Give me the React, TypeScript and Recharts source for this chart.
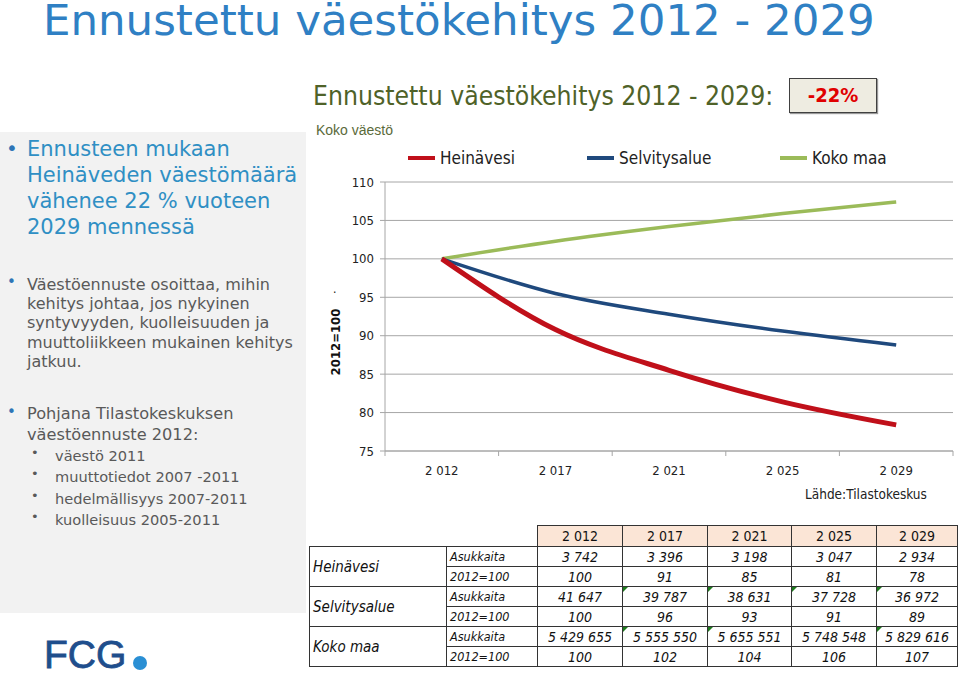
import React from "react";
import { CartesianGrid, Line, LineChart, XAxis, YAxis } from "recharts";

// chart data (index 2012 = 100)
const years = ["2 012", "2 017", "2 021", "2 025", "2 029"];
const heinavesi = [100, 90.8, 85.5, 81.4, 78.4];
const selvitysalue = [100, 95.5, 92.8, 90.6, 88.8];
const kokoMaa = [100, 102.3, 104.2, 105.9, 107.4];
const yTicks = [75, 80, 85, 90, 95, 100, 105, 110];

// table data
const heinavesiAsukkaita = ["3 742", "3 396", "3 198", "3 047", "2 934"];
const heinavesiIndeksi = ["100", "91", "85", "81", "78"];
const selvitysalueAsukkaita = ["41 647", "39 787", "38 631", "37 728", "36 972"];
const selvitysalueIndeksi = ["100", "96", "93", "91", "89"];
const kokoMaaAsukkaita = ["5 429 655", "5 555 550", "5 655 551", "5 748 548", "5 829 616"];
const kokoMaaIndeksi = ["100", "102", "104", "106", "107"];
const selvitysalueFlags = [false, true, true, true, true];
const kokoMaaFlags = [false, true, true, false, true];

const series = [
  { key: "heinavesi", name: "Heinävesi", color: "#c0101a", width: 5 },
  { key: "selvitysalue", name: "Selvitysalue", color: "#1f497d", width: 3.5 },
  { key: "kokoMaa", name: "Koko maa", color: "#9bbb59", width: 3.5 },
];

const chartData = years.map((y, i) => ({
  year: y,
  heinavesi: heinavesi[i],
  selvitysalue: selvitysalue[i],
  kokoMaa: kokoMaa[i],
}));

const tableRows = [
  { name: "Heinävesi", abs: heinavesiAsukkaita, idx: heinavesiIndeksi, flags: [false, false, false, false, false] },
  { name: "Selvitysalue", abs: selvitysalueAsukkaita, idx: selvitysalueIndeksi, flags: selvitysalueFlags },
  { name: "Koko maa", abs: kokoMaaAsukkaita, idx: kokoMaaIndeksi, flags: kokoMaaFlags },
];

const CAL = "'Liberation Sans Narrow', 'DejaVu Sans Condensed', 'Liberation Sans', sans-serif";
const VER = "'DejaVu Sans', Verdana, sans-serif";

const CHART_W = 660;
const CHART_H = 360;
const MARGIN = { top: 42, right: 7, bottom: 19, left: 40 };
const Y_W = 45;
const PLOT_W = CHART_W - MARGIN.left - MARGIN.right - Y_W;
const BAND = PLOT_W / years.length;

const XTick = (props: any) => {
  const { x, y, payload, index } = props;
  return (
    <g>
      <line x1={x - BAND / 2} x2={x - BAND / 2} y1={y} y2={y + 5} stroke="#a6a6a6" />
      {index === years.length - 1 && (
        <line x1={x + BAND / 2} x2={x + BAND / 2} y1={y} y2={y + 5} stroke="#a6a6a6" />
      )}
      <text x={x} y={y + 24} textAnchor="middle" fontSize={13} fontFamily={CAL} fill="#222">
        {payload.value}
      </text>
    </g>
  );
};

const colW = [137, 91, 85, 85, 84, 85, 81];
const cellBase: React.CSSProperties = {
  border: "1px solid #333",
  padding: 0,
  textAlign: "center",
  fontStyle: "italic",
  fontSize: 14,
  height: 19,
  position: "relative",
};

const Flag = () => (
  <span
    style={{
      position: "absolute",
      left: 0,
      top: 0,
      width: 0,
      height: 0,
      borderTop: "5px solid #1e7a1e",
      borderRight: "5px solid transparent",
    }}
  />
);

export default function App() {
  return (
    <div
      style={{
        position: "absolute",
        left: 0,
        top: 0,
        width: 960,
        height: 675,
        overflow: "hidden",
        background: "#fff",
        fontFamily: VER,
      }}
    >
      {/* slide title */}
      <div
        style={{
          position: "absolute",
          left: 43,
          top: 1,
          fontSize: 43.5,
          lineHeight: "38px",
          color: "#2f80c4",
          whiteSpace: "nowrap",
        }}
      >
        Ennustettu väestökehitys 2012 - 2029
      </div>

      {/* left panel */}
      <div style={{ position: "absolute", left: 0, top: 132, width: 306, height: 481, background: "#f2f2f2" }} />
      <div style={{ position: "absolute", left: 6, top: 136, color: "#2e75b6", fontSize: 20 }}>•</div>
      <div
        style={{
          position: "absolute",
          left: 27,
          top: 136,
          fontSize: 21,
          lineHeight: "26px",
          color: "#2f8fc4",
          whiteSpace: "pre",
        }}
      >
        {"Ennusteen mukaan\nHeinäveden väestömäärä\nvähenee 22 % vuoteen\n2029 mennessä"}
      </div>

      <div style={{ position: "absolute", left: 7, top: 273, color: "#2e75b6", fontSize: 15 }}>•</div>
      <div
        style={{
          position: "absolute",
          left: 27,
          top: 274.5,
          fontSize: 16,
          lineHeight: "19.4px",
          color: "#595959",
          whiteSpace: "pre",
        }}
      >
        {"Väestöennuste osoittaa, mihin\nkehitys johtaa, jos nykyinen\nsyntyvyyden, kuolleisuuden ja\nmuuttoliikkeen mukainen kehitys\njatkuu."}
      </div>

      <div style={{ position: "absolute", left: 7, top: 403, color: "#2e75b6", fontSize: 15 }}>•</div>
      <div
        style={{
          position: "absolute",
          left: 27,
          top: 404,
          fontSize: 16.2,
          lineHeight: "20.5px",
          color: "#595959",
          whiteSpace: "pre",
        }}
      >
        {"Pohjana Tilastokeskuksen\nväestöennuste 2012:"}
      </div>
      {["väestö 2011", "muuttotiedot 2007 -2011", "hedelmällisyys 2007-2011", "kuolleisuus 2005-2011"].map((t, i) => (
        <div key={t}>
          <div style={{ position: "absolute", left: 31, top: 445 + i * 21.3, color: "#595959", fontSize: 13 }}>•</div>
          <div
            style={{
              position: "absolute",
              left: 55,
              top: 446 + i * 21.3,
              fontSize: 14.6,
              lineHeight: "20px",
              color: "#595959",
              whiteSpace: "pre",
            }}
          >
            {t}
          </div>
        </div>
      ))}

      {/* FCG logo */}
      <div
        style={{
          position: "absolute",
          left: 44,
          top: 635,
          fontFamily: "'Liberation Sans', sans-serif",
          fontSize: 39,
          color: "#1f4e8c",
          lineHeight: "39px",
          WebkitTextStroke: "0.8px #1f4e8c",
        }}
      >
        FCG
      </div>
      <div
        style={{
          position: "absolute",
          left: 133,
          top: 656,
          width: 14,
          height: 14,
          borderRadius: 7,
          background: "#2a8fd4",
        }}
      />

      {/* chart heading */}
      <div
        style={{
          position: "absolute",
          left: 313,
          top: 81,
          fontFamily: CAL,
          fontSize: 26.3,
          color: "#4f6228",
          whiteSpace: "nowrap",
        }}
      >
        Ennustettu väestökehitys 2012 - 2029:
      </div>
      <div
        style={{
          position: "absolute",
          left: 789,
          top: 78,
          width: 86,
          height: 33,
          background: "#eeece1",
          border: "1px solid #404040",
          boxShadow: "1px 1px 1px #999",
          color: "#e00000",
          fontFamily: CAL,
          fontWeight: "bold",
          fontSize: 20,
          lineHeight: "33px",
          textAlign: "center",
        }}
      >
        -22%
      </div>
      <div
        style={{
          position: "absolute",
          left: 316,
          top: 122,
          fontFamily: "'Liberation Sans', sans-serif",
          fontSize: 14,
          color: "#5a6a3a",
        }}
      >
        Koko väestö
      </div>

      {/* legend */}
      {series.map((s, i) => (
        <div
          key={s.key}
          style={{
            position: "absolute",
            left: [408, 587, 780][i],
            top: 148,
            display: "flex",
            alignItems: "center",
            fontFamily: CAL,
            fontSize: 17,
            color: "#222",
            whiteSpace: "nowrap",
          }}
        >
          <span style={{ display: "inline-block", width: 27, height: 4, background: s.color, marginRight: 5 }} />
          {s.name}
        </div>
      ))}

      {/* line chart */}
      <div style={{ position: "absolute", left: 300, top: 140 }}>
        <LineChart width={CHART_W} height={CHART_H} data={chartData} margin={MARGIN}>
          <CartesianGrid vertical={false} stroke="#a6a6a6" />
          <XAxis
            dataKey="year"
            height={30}
            tickSize={0}
            tickMargin={0}
            tickLine={false}
            padding={{ left: BAND / 2, right: BAND / 2 }}
            axisLine={{ stroke: "#a6a6a6" }}
            tick={<XTick />}
            interval={0}
          />
          <YAxis
            width={Y_W}
            domain={[75, 110]}
            ticks={yTicks}
            type="number"
            axisLine={{ stroke: "#a6a6a6" }}
            tickLine={{ stroke: "#a6a6a6" }}
            tickSize={5}
            tickMargin={6}
            tick={{ fontSize: 13, fontFamily: CAL, fill: "#222" }}
          />
          {[...series].reverse().map((s) => (
            <Line
              key={s.key}
              type="monotone"
              dataKey={s.key}
              name={s.name}
              stroke={s.color}
              strokeWidth={s.width}
              dot={false}
              activeDot={false}
              isAnimationActive={false}
            />
          ))}
        </LineChart>
      </div>

      {/* y axis title */}
      <div
        style={{
          position: "absolute",
          left: 335,
          top: 342,
          transform: "translate(-50%, -50%) rotate(-90deg)",
          fontFamily: CAL,
          fontWeight: "bold",
          fontSize: 13,
          color: "#111",
          whiteSpace: "nowrap",
        }}
      >
        2012=100
      </div>
      <div style={{ position: "absolute", left: 333, top: 282, fontSize: 12, color: "#111", fontFamily: CAL }}>.</div>

      <div
        style={{
          position: "absolute",
          left: 805,
          top: 486,
          fontFamily: CAL,
          fontSize: 13.5,
          color: "#222",
          whiteSpace: "nowrap",
        }}
      >
        Lähde:Tilastokeskus
      </div>

      {/* data table */}
      <table
        style={{
          position: "absolute",
          left: 309,
          top: 525,
          borderCollapse: "collapse",
          tableLayout: "fixed",
          width: colW.reduce((a, b) => a + b, 0),
          fontFamily: CAL,
          color: "#111",
        }}
      >
        <colgroup>
          {colW.map((w, i) => (
            <col key={i} style={{ width: w }} />
          ))}
        </colgroup>
        <tbody>
          <tr>
            <td style={{ ...cellBase, border: "none", borderBottom: "1px solid #333" }} />
            <td style={{ ...cellBase, border: "none", borderBottom: "1px solid #333" }} />
            {years.map((y) => (
              <td key={y} style={{ ...cellBase, fontStyle: "normal", background: "#fbe5d6", height: 20 }}>
                {y}
              </td>
            ))}
          </tr>
          {tableRows.map((r) => (
            <React.Fragment key={r.name}>
              <tr>
                <td
                  rowSpan={2}
                  style={{ ...cellBase, textAlign: "left", paddingLeft: 3, fontSize: 15 }}
                >
                  {r.name}
                </td>
                <td style={{ ...cellBase, textAlign: "left", paddingLeft: 3, fontSize: 12.5 }}>Asukkaita</td>
                {r.abs.map((v, i) => (
                  <td key={i} style={cellBase}>
                    {r.flags[i] && <Flag />}
                    {v}
                  </td>
                ))}
              </tr>
              <tr>
                <td style={{ ...cellBase, textAlign: "left", paddingLeft: 3, fontSize: 12.5 }}>2012=100</td>
                {r.idx.map((v, i) => (
                  <td key={i} style={cellBase}>
                    {v}
                  </td>
                ))}
              </tr>
            </React.Fragment>
          ))}
        </tbody>
      </table>
    </div>
  );
}
